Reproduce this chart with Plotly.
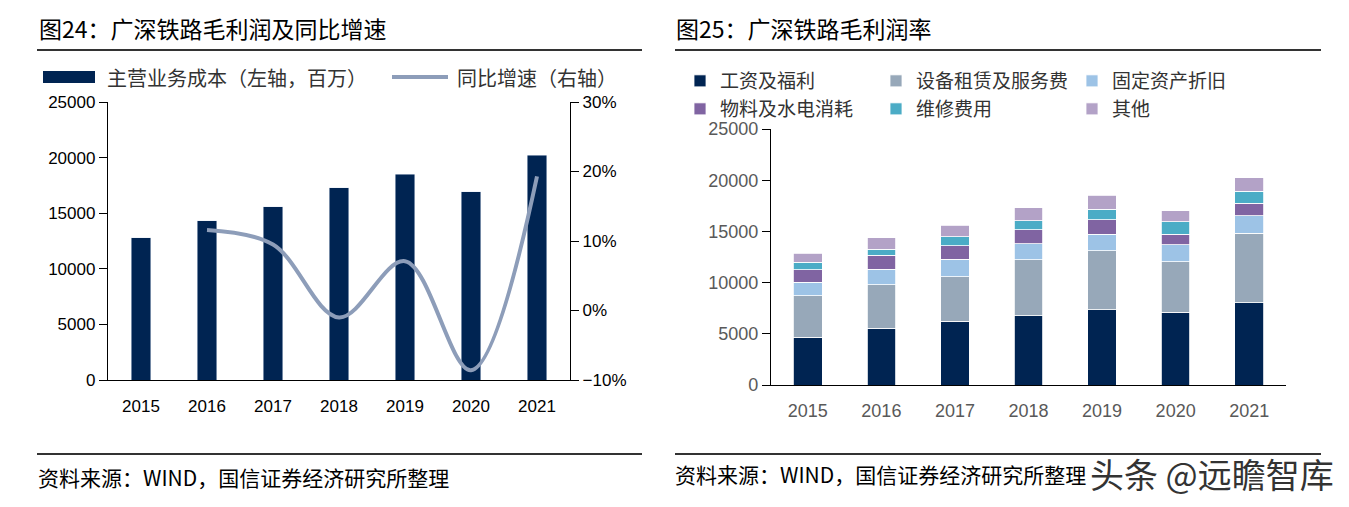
import plotly.graph_objects as go

# The page places the figure with an 8px body margin; size the figure so it fits the window
OFF = 8
W, H = 1349 - 2 * OFF, 507 - 2 * OFF

# ---------------- data ----------------
years = ['2015', '2016', '2017', '2018', '2019', '2020', '2021']
main_cost = [12800, 14300, 15600, 17300, 18500, 16950, 20200]
growth_years = ['2016', '2017', '2018', '2019', '2020', '2021']
growth_pct = [11.6, 9.5, -1.0, 7.1, -8.6, 19.3]

wages = [4660, 5540, 6230, 6780, 7370, 7110, 8050]
equip = [4040, 4240, 4360, 5440, 5730, 4920, 6750]
depr = [1340, 1500, 1700, 1570, 1630, 1660, 1730]
material = [1200, 1400, 1300, 1370, 1400, 1040, 1200]
repair = [750, 590, 910, 880, 1050, 1210, 1210]
other = [880, 1100, 1110, 1270, 1370, 1070, 1300]

stack_names = ['工资及福利', '设备租赁及服务费', '固定资产折旧', '物料及水电消耗', '维修费用', '其他']
stack_values = [wages, equip, depr, material, repair, other]
stack_colors = ['#002452', '#97A8B9', '#9DC3E6', '#8064A2', '#4BACC6', '#B3A2C7']
stack_legends = ['legend2', 'legend2', 'legend2', 'legend3', 'legend3', 'legend3']

left_legend_bar = '主营业务成本（左轴，百万）'
left_legend_line = '同比增速（右轴）'
title_left = '图24：广深铁路毛利润及同比增速'
title_right = '图25：广深铁路毛利润率'
source_text = '资料来源：WIND，国信证券经济研究所整理'
watermark = '头条 @远瞻智库'

NAVY = '#002452'
LINE = '#8D9DB9'
CJK = 'Noto Sans CJK SC'
NUM = 'Liberation Sans, Arial, sans-serif'


def px(x):
    return (x - OFF) / W


def py(y):
    return 1 - (y - OFF) / H


fig = go.Figure()

# ---------- left chart ----------
fig.add_trace(go.Bar(x=years, y=main_cost, name=left_legend_bar, marker_color=NAVY,
                     width=0.30, xaxis='x', yaxis='y', showlegend=False))
fig.add_trace(go.Scatter(x=growth_years, y=growth_pct, name=left_legend_line, mode='lines',
                         line=dict(color=LINE, width=4, shape='spline', smoothing=1.0),
                         xaxis='x', yaxis='y2', showlegend=False))

# ---------- right chart ----------
for name, vals, col, lg in zip(stack_names, stack_values, stack_colors, stack_legends):
    fig.add_trace(go.Bar(x=years, y=vals, name=name, marker=dict(color=col, line=dict(color='white', width=0.8)),
                         width=0.39, xaxis='x2', yaxis='y3', legend=lg))

axis_common = dict(showgrid=False, zeroline=False, showline=True, linecolor='black', linewidth=1.3,
                   automargin=False)

fig.update_layout(
    width=W, height=H,
    margin=dict(l=0, r=0, t=0, b=0, pad=0, autoexpand=False),
    paper_bgcolor='white', plot_bgcolor='white',
    barmode='stack',
    xaxis=dict(domain=[px(108), px(570)], anchor='y', type='category', categoryorder='array',
               categoryarray=years, ticks='', ticklabelstandoff=10,
               tickfont=dict(family=NUM, size=17, color='black'), **axis_common),
    yaxis=dict(domain=[py(380), py(102)], anchor='x', range=[0, 25000], dtick=5000, tickformat='d',
               ticks='outside', ticklen=8, tickcolor='black', tickwidth=1.3,
               tickfont=dict(family=NUM, size=17, color='black'), **axis_common),
    yaxis2=dict(overlaying='y', side='right', anchor='x', range=[-10, 30], dtick=10, ticksuffix='%',
                ticks='outside', ticklen=8, tickcolor='black', tickwidth=1.3,
                tickfont=dict(family=NUM, size=17, color='black'), **axis_common),
    xaxis2=dict(domain=[px(771), px(1286)], anchor='y3', type='category', categoryorder='array',
                categoryarray=years, ticks='', ticklabelstandoff=9,
                tickfont=dict(family=NUM, size=18, color='#595959'), **axis_common),
    yaxis3=dict(domain=[py(385), py(129)], anchor='x2', range=[0, 25000], dtick=5000, tickformat='d',
                ticks='outside', ticklen=8, tickcolor='black', tickwidth=1.3,
                tickfont=dict(family=NUM, size=18, color='#595959'), **axis_common),
    legend2=dict(x=px(680), y=py(81), xanchor='left', yanchor='middle', orientation='h',
                 entrywidth=151, entrywidthmode='pixels', bgcolor='rgba(0,0,0,0)',
                 font=dict(family=CJK, size=19, color='#333333'), traceorder='normal'),
    legend3=dict(x=px(680), y=py(109), xanchor='left', yanchor='middle', orientation='h',
                 entrywidth=151, entrywidthmode='pixels', bgcolor='rgba(0,0,0,0)',
                 font=dict(family=CJK, size=19, color='#333333'), traceorder='normal'),
)

shapes = [
    # rules
    dict(type='line', xref='paper', yref='paper', x0=px(37), x1=px(642), y0=py(50), y1=py(50),
         line=dict(color='#333333', width=2)),
    dict(type='line', xref='paper', yref='paper', x0=px(37), x1=px(642), y0=py(454), y1=py(454),
         line=dict(color='#333333', width=2)),
    dict(type='line', xref='paper', yref='paper', x0=px(675), x1=px(1321), y0=py(50), y1=py(50),
         line=dict(color='#333333', width=2)),
    dict(type='line', xref='paper', yref='paper', x0=px(675), x1=px(1321), y0=py(454), y1=py(454),
         line=dict(color='#333333', width=2)),
    # left legend swatches
    dict(type='rect', xref='paper', yref='paper', x0=px(43), x1=px(95), y0=py(83), y1=py(71),
         fillcolor=NAVY, line=dict(width=0)),
    dict(type='line', xref='paper', yref='paper', x0=px(392), x1=px(448), y0=py(77), y1=py(77),
         line=dict(color=LINE, width=4)),
]

annotations = [
    dict(text=title_left, x=px(37), y=py(28), xref='paper', yref='paper', xanchor='left', yanchor='middle',
         showarrow=False, font=dict(family=CJK, size=23, color='black')),
    dict(text=title_right, x=px(674), y=py(28), xref='paper', yref='paper', xanchor='left', yanchor='middle',
         showarrow=False, font=dict(family=CJK, size=23, color='black')),
    dict(text=left_legend_bar, x=px(105), y=py(77), xref='paper', yref='paper', xanchor='left', yanchor='middle',
         showarrow=False, font=dict(family=CJK, size=20, color='#333333')),
    dict(text=left_legend_line, x=px(455), y=py(77), xref='paper', yref='paper', xanchor='left', yanchor='middle',
         showarrow=False, font=dict(family=CJK, size=20, color='#333333')),
    dict(text=source_text, x=px(36), y=py(477), xref='paper', yref='paper', xanchor='left', yanchor='middle',
         showarrow=False, font=dict(family=CJK, size=21, color='black')),
    dict(text=source_text, x=px(673), y=py(474), xref='paper', yref='paper', xanchor='left', yanchor='middle',
         showarrow=False, font=dict(family=CJK, size=21, color='black')),
    dict(text=watermark, x=px(1336), y=py(473), xref='paper', yref='paper', xanchor='right', yanchor='middle',
         showarrow=False, font=dict(family=CJK, size=34, color='#333333')),
]

fig.update_layout(shapes=shapes, annotations=annotations)

fig.write_html('out.html')
